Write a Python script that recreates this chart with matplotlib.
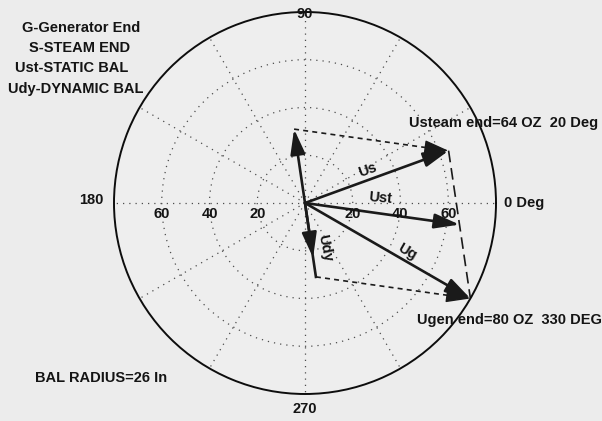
import numpy as np
import matplotlib.pyplot as plt

# unbalance readings (magnitude in OZ, angle in degrees)
steam_mag, steam_deg = 64, 20
gen_mag, gen_deg = 80, 330
bal_radius = 26

ring_values = [20, 40, 60]
spoke_degs = list(range(0, 360, 30))
legend_lines = ["G-Generator End", "S-STEAM END", "Ust-STATIC BAL", "Udy-DYNAMIC BAL"]

W, H = 602, 421
BG = "#ececec"
FONT = ["Liberation Sans", "DejaVu Sans"]


def vec(mag, deg):
    a = np.radians(deg)
    return np.array([mag * np.cos(a), mag * np.sin(a)])


def pol(v):
    return (np.arctan2(v[1], v[0]), np.hypot(v[0], v[1]))


us = vec(steam_mag, steam_deg)
ug = vec(gen_mag, gen_deg)
ust = (us + ug) / 2
udy = (us - ug) / 2

fig = plt.figure(figsize=(W / 100, H / 100), dpi=100, facecolor=BG)
r_px = 191
cx, cy = 305, 203
ax = fig.add_axes([(cx - r_px) / W, (H - cy - r_px) / H, 2 * r_px / W, 2 * r_px / H],
                  projection="polar")
ax.set_facecolor("#eeeeee")
ax.set_rlim(0, 80)
ax.set_rgrids(ring_values, labels=[""] * len(ring_values))
ax.set_thetagrids(spoke_degs, labels=[""] * len(spoke_degs))
ax.grid(True, color="0.3", lw=0.9, ls=(0, (1, 4)))
ax.spines["polar"].set_linewidth(1.4)
ax.spines["polar"].set_color("0.05")


def arrow(tail, head, lw=1.9, ms=16):
    ax.annotate("", xy=pol(head), xytext=pol(tail),
                arrowprops=dict(arrowstyle="-|>,head_length=0.95,head_width=0.28",
                                color="0.1", lw=lw, mutation_scale=ms,
                                shrinkA=0, shrinkB=0))


def dashed(p, q, dash, lw=1.2, head=False):
    (t1, r1), (t2, r2) = pol(p), pol(q)
    ax.plot([t1, t2], [r1, r2], color="0.1", lw=lw, ls=(0, dash))
    if head:
        arrow(q - 0.12 * (q - p), q, lw=1.0)


origin = np.zeros(2)

# parallelogram construction
dashed(udy, us, (3, 2.5), head=True)
dashed(-udy, ug, (3, 2.5), head=True)
dashed(us, ug, (7, 3.5))

# vectors from the rotor centre
arrow(origin, us)
arrow(origin, ug)
arrow(origin, ust)
arrow(origin, udy)
ax.plot([0, pol(-udy)[0]], [0, pol(-udy)[1]], color="0.1", lw=1.9)
arrow(origin, -0.74 * udy)

txt = dict(fontsize=10.5, fontweight="bold", family=FONT, color="0.08")


def ptext(deg, r, s, rot=0, **kw):
    ax.text(np.radians(deg), r, s, rotation=rot, rotation_mode="anchor",
            ha="center", va="center", **txt, **kw)


ptext(27.6, 29.8, "Us", rot=20)
ptext(3.8, 31.5, "Ust", rot=-5)
ptext(-25.6, 47.4, "Ug", rot=-30)
ptext(-66, 20.6, "Udy", rot=-78)

# ring values along the 0/180 axis
for r in ring_values:
    for th in (0, np.pi):
        ax.annotate(str(r), xy=(th, r), xytext=(0, -11), textcoords="offset pixels",
                    ha="center", va="center", **txt)

ax.annotate("0 Deg", xy=(0, 80), xytext=(8, 0), textcoords="offset pixels",
            ha="left", va="center", annotation_clip=False, **txt)
ax.annotate("90", xy=(np.pi / 2, 80), xytext=(0, -2), textcoords="offset pixels",
            ha="center", va="center", annotation_clip=False, **txt)
ax.annotate("180", xy=(np.pi, 80), xytext=(-11, 3), textcoords="offset pixels",
            ha="right", va="center", annotation_clip=False, **txt)
ax.annotate("270", xy=(1.5 * np.pi, 80), xytext=(0, -15), textcoords="offset pixels",
            ha="center", va="center", annotation_clip=False, **txt)


def ftext(x, y, s):
    fig.text(x / W, 1 - y / H, s, ha="left", va="center", **txt)


for (x, y), s in zip([(22, 28), (29, 48), (15, 68), (8, 89)], legend_lines):
    ftext(x, y, s)

ftext(409, 123, f"Usteam end={steam_mag} OZ  {steam_deg} Deg")
ftext(417, 320, f"Ugen end={gen_mag} OZ  {gen_deg} DEG")
ftext(35, 378, f"BAL RADIUS={bal_radius} In")

fig.savefig("out.png", dpi=100, facecolor=BG)
